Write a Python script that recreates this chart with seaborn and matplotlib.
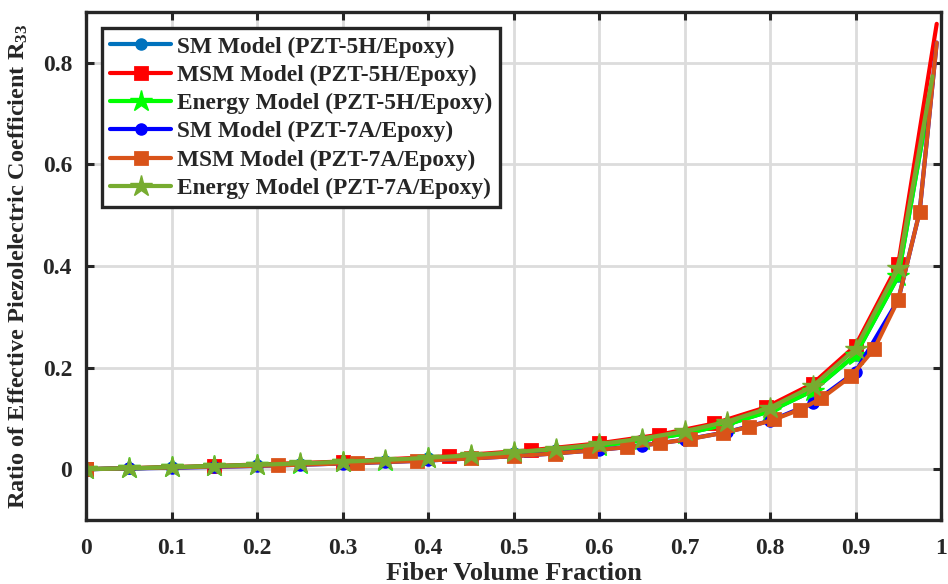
import numpy as np
import pandas as pd
import matplotlib
matplotlib.use("Agg")
import matplotlib.pyplot as plt
import seaborn as sns

# ---------------- data ----------------
labels = ["SM Model (PZT-5H/Epoxy)", "MSM Model (PZT-5H/Epoxy)", "Energy Model (PZT-5H/Epoxy)",
          "SM Model (PZT-7A/Epoxy)", "MSM Model (PZT-7A/Epoxy)", "Energy Model (PZT-7A/Epoxy)"]

f_sm5h = [0, 0.05, 0.1, 0.15, 0.2, 0.25, 0.3, 0.35, 0.4, 0.45, 0.5, 0.55, 0.6, 0.65, 0.7,
          0.75, 0.8, 0.85, 0.9, 0.95, 0.99]
r_sm5h = [0, 0.0017, 0.0036, 0.0057, 0.0080, 0.0106, 0.0136, 0.0171, 0.0211, 0.0257, 0.0313,
          0.0379, 0.0462, 0.0565, 0.0700, 0.0882, 0.1143, 0.1545, 0.2250, 0.3800, 0.7615]

f_msm5h = [0, 0.15, 0.3, 0.425, 0.52, 0.6, 0.67, 0.735, 0.795, 0.85, 0.9, 0.95, 0.995]
r_msm5h = [0, 0.0063, 0.0151, 0.0257, 0.0373, 0.0509, 0.0676, 0.0901, 0.1217, 0.1683, 0.2432,
           0.4040, 0.8767]

f_en5h = [0, 0.05, 0.1, 0.15, 0.2, 0.25, 0.3, 0.35, 0.4, 0.45, 0.5, 0.55, 0.6, 0.65, 0.7,
          0.75, 0.8, 0.85, 0.9, 0.95, 0.99]
r_en5h = [0, 0.0017, 0.0036, 0.0057, 0.0080, 0.0106, 0.0136, 0.0171, 0.0211, 0.0257, 0.0313,
          0.0379, 0.0462, 0.0565, 0.0700, 0.0882, 0.1143, 0.1545, 0.2250, 0.3800, 0.7615]

f_sm7a = [0, 0.05, 0.1, 0.15, 0.2, 0.25, 0.3, 0.35, 0.4, 0.45, 0.5, 0.55, 0.6, 0.65, 0.7,
          0.75, 0.8, 0.85, 0.9, 0.95, 0.975, 0.995]
r_sm7a = [0, 0.0014, 0.0029, 0.0046, 0.0065, 0.0087, 0.0112, 0.0140, 0.0172, 0.0211, 0.0256,
          0.0312, 0.0380, 0.0466, 0.0579, 0.0732, 0.0952, 0.1298, 0.1915, 0.3333, 0.5065, 0.8397]

f_msm7a = [0, 0.225, 0.317, 0.387, 0.45, 0.5, 0.548, 0.59, 0.633, 0.671, 0.706, 0.745, 0.775,
           0.805, 0.835, 0.86, 0.895, 0.922, 0.95, 0.975, 0.995]
r_msm7a = [0, 0.0076, 0.0121, 0.0163, 0.0211, 0.0256, 0.0309, 0.0365, 0.0434, 0.0509, 0.0594,
           0.0714, 0.0831, 0.0980, 0.1175, 0.1392, 0.1832, 0.2373, 0.3333, 0.5065, 0.8397]

f_en7a = [0, 0.05, 0.1, 0.15, 0.2, 0.25, 0.3, 0.35, 0.4, 0.45, 0.5, 0.55, 0.6, 0.65, 0.7,
          0.75, 0.8, 0.85, 0.9, 0.95, 0.99]
r_en7a = [0, 0.0018, 0.0038, 0.0061, 0.0086, 0.0114, 0.0146, 0.0182, 0.0225, 0.0274, 0.0333,
          0.0404, 0.0492, 0.0602, 0.0745, 0.0938, 0.1212, 0.1635, 0.2368, 0.3958, 0.7734]

x_ticks = [0, 0.1, 0.2, 0.3, 0.4, 0.5, 0.6, 0.7, 0.8, 0.9, 1]
x_ticklabels = ["0", "0.1", "0.2", "0.3", "0.4", "0.5", "0.6", "0.7", "0.8", "0.9", "1"]
y_ticks = [0, 0.2, 0.4, 0.6, 0.8]
y_ticklabels = ["0", "0.2", "0.4", "0.6", "0.8"]

# ---------------- styling ----------------
sns.set_theme(style="white")
plt.rcParams['font.family'] = ['Liberation Serif', 'DejaVu Serif']
plt.rcParams['font.weight'] = 'bold'
plt.rcParams['mathtext.fontset'] = 'custom'
plt.rcParams['mathtext.rm'] = 'Liberation Serif:bold'
plt.rcParams['mathtext.it'] = 'Liberation Serif:bold'
plt.rcParams['mathtext.bf'] = 'Liberation Serif:bold'

fig = plt.figure(figsize=(9.48, 5.84), dpi=100)
ax = fig.add_axes([86/948, 1-520/584, (941-86)/948, (520-12)/584])

sq = dict(markersize=8, mew=2.0)
st = dict(markersize=16, mew=1)
ci = dict(markersize=8, mew=1)
series = [
    (f_sm5h, r_sm5h, labels[0], "#0072BD", "o", ci, len(f_sm5h) - 1),
    (f_msm5h, r_msm5h, labels[1], "#FF0000", "s", sq, len(f_msm5h) - 1),
    (f_en5h, r_en5h, labels[2], "#00FF00", "*", st, len(f_en5h) - 1),
    (f_sm7a, r_sm7a, labels[3], "#0000FF", "o", ci, len(f_sm7a) - 2),
    (f_msm7a, r_msm7a, labels[4], "#D95319", "s", sq, len(f_msm7a) - 1),
    (f_en7a, r_en7a, labels[5], "#77AC30", "*", st, len(f_en7a) - 1),
]

for fx, ry, lab, col, mk, kw, nmark in series:
    df = pd.DataFrame({"f": fx, "r": ry})
    sns.lineplot(data=df, x="f", y="r", ax=ax, color=col, linewidth=3.0, marker=mk,
                 markeredgecolor=col, markerfacecolor=col, markevery=list(range(nmark)),
                 label=lab, estimator=None, sort=False, **kw)

ax.set_xlim(0, 1)
ax.set_ylim(-0.1, 0.9)
ax.set_xticks(x_ticks)
ax.set_xticklabels(x_ticklabels)
ax.set_yticks(y_ticks)
ax.set_yticklabels(y_ticklabels)
ax.grid(True, color="#dcdcdc", linewidth=2.0)
ax.set_axisbelow(True)
for s in ax.spines.values():
    s.set_color("#262626")
    s.set_linewidth(2.4)
    s.set_visible(True)
ax.tick_params(direction="in", length=6, width=2.2, colors="#262626",
               top=True, right=True, bottom=True, left=True, labelsize=17,
               labelcolor="#262626")
ax.tick_params(axis="x", pad=13)
ax.tick_params(axis="y", pad=10)
for t in ax.get_xticklabels() + ax.get_yticklabels():
    t.set_fontweight("bold")

ax.set_xlabel("Fiber Volume Fraction", fontsize=19, fontweight="bold", color="#262626", labelpad=2)
ax.set_ylabel(r"Ratio of Effective Piezolelectric Coefficient R$_{33}$", fontsize=17.5,
              fontweight="bold", color="#262626", labelpad=9)

leg = ax.legend(loc="upper left", bbox_to_anchor=(16/855, 1-16/508), borderaxespad=0,
                handlelength=2.6, handletextpad=0.25, labelspacing=0.3,
                borderpad=0.35, frameon=True, fancybox=False, prop={"weight": "bold", "size": 16.8})
leg.get_frame().set_edgecolor("#262626")
leg.get_frame().set_linewidth(2.4)
leg.get_frame().set_alpha(1)

fig.savefig("out.png", dpi=100)
